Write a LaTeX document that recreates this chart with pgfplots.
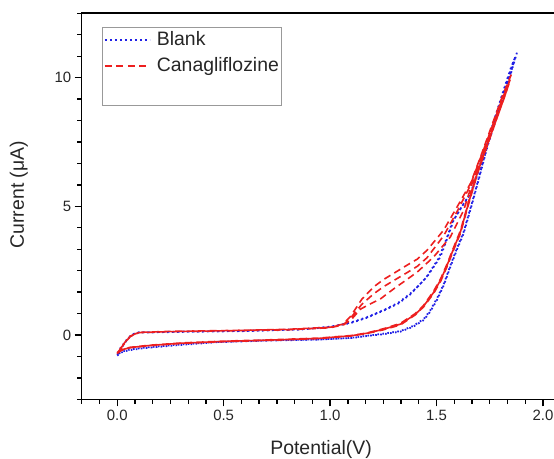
\documentclass[border=0pt]{standalone}
\usepackage{pgfplots}
\pgfplotsset{compat=1.18}
\usepackage{fontspec}
\setmainfont{Liberation Sans}
\definecolor{cvblue}{rgb}{0.12,0.12,0.9}
\definecolor{cvred}{rgb}{0.93,0.12,0.12}
\begin{document}
\begin{tikzpicture}
\begin{axis}[
 at={(0,0)}, anchor=south west,
 scale only axis, width=482.6bp, height=386bp,
 xmin=-0.16667, xmax=2.1, ymin=-2.5, ymax=12.5,
 xtick={0,0.5,1,1.5,2}, ytick={0,5,10},
 minor xtick={-0.16667,-0.08333,...,2.09},
 minor ytick={-2.5,-1.66667,...,12.5},
 xtick pos=bottom, ytick pos=left,
 tick align=outside,
 major tick length=7bp, minor tick length=4.5bp,
 every tick/.style={black, line width=1.3bp},
 axis line style={line width=1.6bp, black},
 xticklabel style={/pgf/number format/.cd, fixed, fixed zerofill, precision=1},
 /pgf/number format/assume math mode=true,
 tick label style={font=\fontsize{15}{18}\selectfont, text=black!85},
 xlabel={Potential(V)}, ylabel={Current (μA)},
 label style={font=\fontsize{19.5}{23}\selectfont, text=black!85},
 xlabel style={at={(axis description cs:0.496,-0.142)}, anchor=base},
 ylabel style={at={(axis description cs:-0.13,0.53)}, anchor=center},
 legend style={at={(axis description cs:0.0414,0.965)}, anchor=north west,
   draw=gray!80, line width=0.8bp, fill=white, inner xsep=2bp, inner ysep=4bp,
   row sep=8bp, column sep=6bp, font=\fontsize{19.5}{23}\selectfont, text=black!85,
   nodes={inner sep=0pt, text height=14bp, text depth=4bp}},
 legend cell align=left,
 legend image code/.code={\draw[#1] (0bp,0bp) -- (45bp,0bp);},
 no markers,
]
% Blank
\addplot[color=cvblue, line width=1.8bp, dash pattern=on 1.6bp off 3.4bp, line join=round] coordinates {
(0,-0.8) (0.02,-0.68) (0.05,-0.6) (0.12,-0.52) (0.25,-0.42) (0.47,-0.28) (0.7,-0.22) (0.95,-0.18) (1.1,-0.12) (1.174,-0.04) (1.25,0.03) (1.33,0.13) (1.39,0.32) (1.44,0.58) (1.47,0.9) (1.502,1.36) (1.535,1.95) (1.565,2.65) (1.595,3.3) (1.627,3.94) (1.667,5.1) (1.7,6.1) (1.74,7.35) (1.78,8.4) (1.81,9.15) (1.845,10.05) (1.877,10.95)
(1.86,10.6) (1.83,9.85) (1.79,8.8) (1.75,7.75) (1.71,6.7) (1.667,5.6) (1.627,5.1) (1.58,4.46) (1.55,3.75) (1.518,3.03) (1.455,2.26) (1.42,1.95) (1.377,1.61) (1.32,1.25) (1.252,0.97) (1.17,0.68) (1.095,0.48) (1.0,0.32) (0.861,0.22) (0.6,0.16) (0.3,0.13) (0.1,0.1) (0.07,0.02) (0.05,-0.13) (0.03,-0.35) (0.016,-0.5) (0,-0.76)
(0.02,-0.66) (0.05,-0.58) (0.12,-0.5) (0.25,-0.4) (0.47,-0.27) (0.7,-0.21) (0.95,-0.17) (1.1,-0.11) (1.174,-0.03) (1.25,0.05) (1.33,0.15) (1.39,0.35) (1.44,0.62) (1.47,0.95) (1.502,1.42) (1.535,2.0) (1.565,2.7) (1.595,3.35) (1.627,4.0) (1.667,5.15) (1.7,6.15) (1.74,7.4) (1.78,8.45) (1.81,9.2) (1.84,9.95) (1.87,10.8)
(1.85,10.4) (1.82,9.65) (1.78,8.6) (1.74,7.55) (1.7,6.5) (1.66,5.5) (1.62,5.0) (1.575,4.4) (1.545,3.7) (1.51,2.98) (1.45,2.22) (1.377,1.58) (1.32,1.22) (1.252,0.95) (1.17,0.66) (1.095,0.46) (1.0,0.31) (0.861,0.21) (0.6,0.15) (0.3,0.12) (0.1,0.09) (0.07,0.0) (0.05,-0.15) (0.03,-0.38) (0,-0.78)
};
\addlegendentry{Blank}
% Canagliflozine
\addplot[color=cvred, line width=1.6bp, dash pattern=on 7bp off 4.5bp, line join=round] coordinates {
(0,-0.72) (0.02,-0.6) (0.06,-0.5) (0.15,-0.42) (0.3,-0.33) (0.5,-0.26) (0.75,-0.2) (0.95,-0.14) (1.1,-0.04) (1.174,0.06) (1.25,0.2) (1.33,0.39) (1.4,0.78) (1.44,1.1) (1.486,1.61) (1.52,2.1) (1.549,2.65) (1.58,3.3) (1.612,3.94) (1.651,5.1) (1.692,6.27) (1.758,7.82) (1.824,9.37) (1.85,10.1)
(1.81,9.3) (1.76,8.15) (1.71,7.0) (1.66,5.9) (1.596,4.97) (1.533,4.07) (1.455,3.29) (1.41,2.95) (1.361,2.71) (1.3,2.4) (1.25,2.15) (1.205,1.87) (1.15,1.4) (1.095,0.71) (1.06,0.42) (1.0,0.3) (0.8,0.22) (0.5,0.17) (0.25,0.14) (0.1,0.1) (0.06,-0.05) (0.03,-0.35) (0.01,-0.6) (0,-0.7)
(0.02,-0.58) (0.06,-0.49) (0.15,-0.41) (0.3,-0.32) (0.5,-0.25) (0.75,-0.19) (0.95,-0.13) (1.1,-0.03) (1.174,0.07) (1.25,0.22) (1.33,0.42) (1.4,0.8) (1.44,1.13) (1.486,1.65) (1.52,2.15) (1.549,2.7) (1.58,3.35) (1.612,4.0) (1.651,5.15) (1.692,6.3) (1.758,7.85) (1.824,9.35) (1.845,9.9)
(1.805,9.1) (1.755,7.95) (1.705,6.85) (1.655,5.75) (1.6,4.85) (1.533,3.85) (1.455,3.0) (1.41,2.67) (1.361,2.42) (1.3,2.12) (1.25,1.87) (1.205,1.6) (1.15,1.2) (1.1,0.7) (1.065,0.42) (1.0,0.29) (0.8,0.21) (0.5,0.16) (0.25,0.13) (0.1,0.09) (0.06,-0.06) (0.03,-0.37) (0.01,-0.6) (0,-0.68)
(0.02,-0.57) (0.06,-0.48) (0.15,-0.4) (0.3,-0.31) (0.5,-0.24) (0.75,-0.18) (0.95,-0.12) (1.1,-0.02) (1.174,0.08) (1.25,0.24) (1.33,0.45) (1.4,0.83) (1.44,1.16) (1.486,1.7) (1.52,2.2) (1.549,2.75) (1.58,3.4) (1.612,4.05) (1.651,5.2) (1.692,6.35) (1.758,7.9) (1.82,9.3) (1.84,9.75)
(1.8,8.95) (1.75,7.8) (1.7,6.75) (1.66,5.7) (1.627,4.84) (1.565,3.81) (1.486,3.03) (1.41,2.45) (1.36,2.15) (1.3,1.8) (1.236,1.4) (1.18,1.17) (1.142,1.0) (1.1,0.6) (1.065,0.4) (1.0,0.28) (0.8,0.2) (0.5,0.16) (0.25,0.13) (0.1,0.09) (0.06,-0.07) (0.03,-0.38) (0,-0.66)
};
\addlegendentry{Canagliflozine}
\addlegendimage{empty legend}
\addlegendentry{}
\end{axis}
\pgfresetboundingbox
\useasboundingbox (-81.7bp,-59.7bp) rectangle (472.3bp,399.3bp);
\end{tikzpicture}
\end{document}
